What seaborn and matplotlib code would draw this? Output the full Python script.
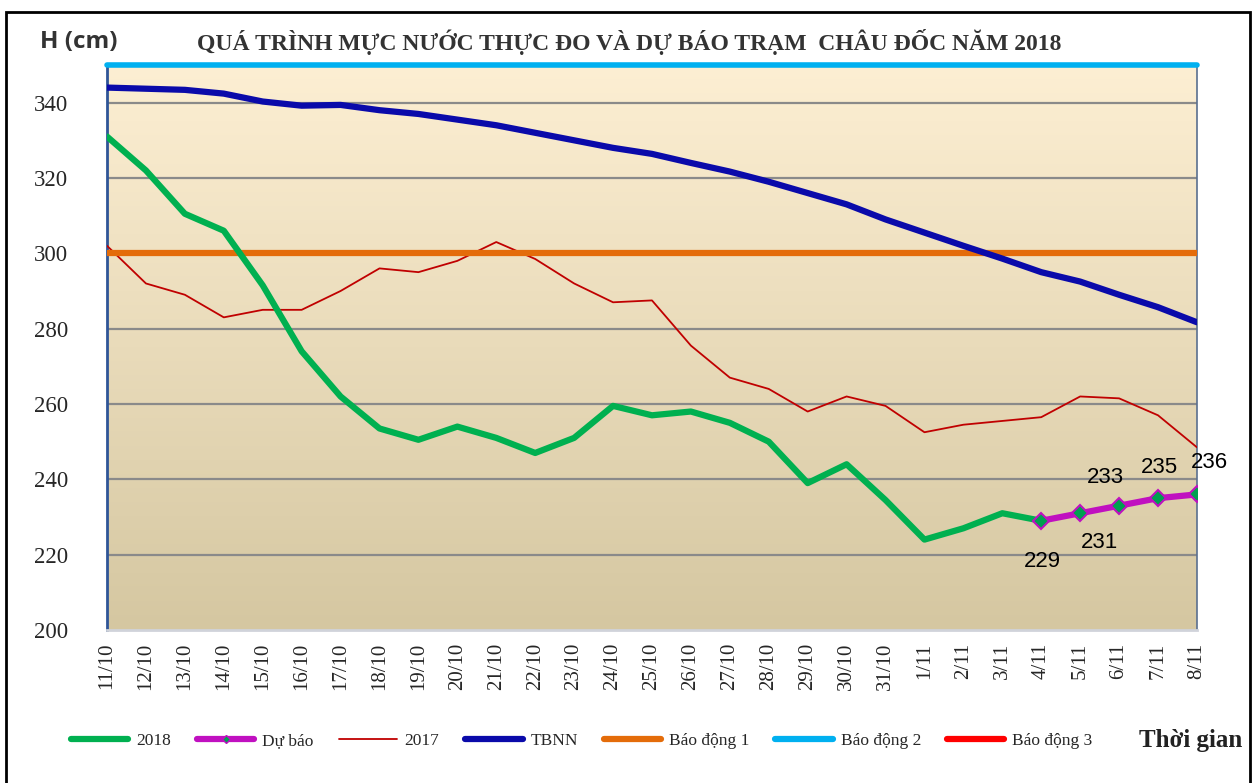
import numpy as np
import pandas as pd
import seaborn as sns
import matplotlib.pyplot as plt
from matplotlib.patches import Rectangle
from matplotlib.lines import Line2D

# dữ liệu
ngay = ['11/10', '12/10', '13/10', '14/10', '15/10', '16/10', '17/10', '18/10', '19/10',
        '20/10', '21/10', '22/10', '23/10', '24/10', '25/10', '26/10', '27/10', '28/10',
        '29/10', '30/10', '31/10', '1/11', '2/11', '3/11', '4/11', '5/11', '6/11', '7/11', '8/11']

h2018 = [331, 322, 310.5, 306, 291.5, 274, 262, 253.5, 250.5, 254, 251, 247, 251, 259.5,
         257, 258, 255, 250, 239, 244, 234.5, 224, 227, 231, 229]
du_bao = [229, 231, 233, 235, 236]
h2017 = [302, 292, 289, 283, 285, 285, 290, 296, 295, 298, 303, 298.5, 292, 287, 287.5,
         275.5, 267, 264, 258, 262, 259.5, 252.5, 254.5, 255.5, 256.5, 262, 261.5, 257, 248.5]
tbnn = [344, 343.7, 343.4, 342.4, 340.3, 339.2, 339.4, 338, 337, 335.5, 334, 332, 330, 328,
        326.4, 324, 321.7, 319, 316, 313, 309, 305.5, 302, 298.6, 295, 292.5, 289, 285.7, 281.7]
bd1, bd2, bd3 = 300, 350, 400

x_all = np.arange(len(ngay))
df17 = pd.DataFrame({'x': x_all, 'h': h2017})
dftb = pd.DataFrame({'x': x_all, 'h': tbnn})
df18 = pd.DataFrame({'x': x_all[:len(h2018)], 'h': h2018})
dfdb = pd.DataFrame({'x': x_all[len(h2018) - 1:], 'h': du_bao})

sns.set_style('white')
plt.rcParams['font.family'] = ['Liberation Serif', 'DejaVu Serif']

fig = plt.figure(figsize=(12.59, 7.83), dpi=100)
ax = fig.add_axes([0.085, 0.1954, 0.8657, 0.7216])

# nền gradient
grad = np.linspace(0, 1, 256).reshape(-1, 1)
top = np.array([253, 239, 211]) / 255
bot = np.array([213, 199, 161]) / 255
img = top + (bot - top) * grad[:, :, None]
ax.imshow(img, extent=[0, 1, 0, 1], transform=ax.transAxes, aspect='auto', zorder=0)

for v in range(220, 350, 20):
    ax.axhline(v, color='#8a8a8a', lw=1.6, zorder=1)

kw = dict(ax=ax, x='x', y='h', sort=False, solid_capstyle='round', solid_joinstyle='round')
sns.lineplot(data=df17, color='#C00000', lw=1.3, zorder=3, **kw)
ax.axhline(bd1, color='#E46C0A', lw=4.5, zorder=4)
ax.axhline(bd2, color='#00B0F0', lw=4, zorder=4, clip_on=False)
ax.axhline(bd3, color='#FF0000', lw=4, zorder=4)
sns.lineplot(data=df18, color='#00B050', lw=4.5, zorder=5, **kw)
sns.lineplot(data=dftb, color='#0A0AAA', lw=4.5, zorder=5, **kw)
sns.lineplot(data=dfdb, color='#C010C0', lw=4.5, zorder=6, marker='D', markersize=8,
             markerfacecolor='#00A050', markeredgecolor='#C010C0', markeredgewidth=1.5, **kw)

offs = [(1, -29), (14, -21), (-10, 20), (1, 22), (9, 23)]
for xi, v, (dx, dy) in zip(dfdb['x'], du_bao, offs):
    ax.annotate(str(v), (xi, v), xytext=(dx, dy), textcoords='offset points',
                ha='center', va='center', fontsize=16, family='Liberation Sans', color='black')

ax.set_xlim(0, len(ngay) - 1)
ax.set_ylim(200, 350)
ax.set_yticks(range(200, 350, 20))
ax.set_yticklabels([str(v) for v in range(200, 350, 20)], fontsize=16.5)
ax.set_xticks(x_all)
ax.set_xticklabels(ngay, rotation=90, fontsize=15)
ax.tick_params(axis='x', length=0, pad=9)
ax.tick_params(axis='y', length=0, pad=28)
ax.set_xlabel('')
ax.set_ylabel('')
ax.spines['top'].set_visible(False)
ax.spines['left'].set_color('#2F5597')
ax.spines['left'].set_linewidth(2)
ax.spines['right'].set_color('#5a6f8f')
ax.spines['right'].set_linewidth(1.2)
ax.spines['bottom'].set_color('#d0d3da')
ax.spines['bottom'].set_linewidth(2)

fig.text(0.032, 0.946, 'H (cm)', fontsize=17.5, fontweight='bold', family='Open Sans',
         color='#333333', va='center')
fig.text(0.5, 0.946, 'QUÁ TRÌNH MỰC NƯỚC THỰC ĐO VÀ DỰ BÁO TRẠM  CHÂU ĐỐC NĂM 2018',
         fontsize=17, fontweight='bold', color='#333333', ha='center', va='center')

handles = [
    Line2D([], [], color='#00B050', lw=4.5, solid_capstyle='round'),
    Line2D([], [], color='#C010C0', lw=4.5, marker='D', markersize=4,
           markerfacecolor='#00A050', markeredgecolor='#C010C0', solid_capstyle='round'),
    Line2D([], [], color='#C00000', lw=1.3),
    Line2D([], [], color='#0A0AAA', lw=4.5, solid_capstyle='round'),
    Line2D([], [], color='#E46C0A', lw=4.5, solid_capstyle='round'),
    Line2D([], [], color='#00B0F0', lw=4.5, solid_capstyle='round'),
    Line2D([], [], color='#FF0000', lw=4.5, solid_capstyle='round'),
]
labels = ['2018', 'Dự báo', '2017', 'TBNN', 'Báo động 1', 'Báo động 2', 'Báo động 3']
fig.legend(handles, labels, loc='center', bbox_to_anchor=(0.462, 0.054), ncol=7,
           frameon=False, fontsize=12.5, handlelength=3.3, handletextpad=0.45,
           columnspacing=1.5)
fig.text(0.987, 0.054, 'Thời gian', fontsize=18, fontweight='bold', color='#222222',
         ha='right', va='center')

fig.patches.append(Rectangle((0.005, -0.01), 0.988, 0.995, transform=fig.transFigure,
                             fill=False, edgecolor='black', lw=2))

fig.savefig('out.png', dpi=100)
